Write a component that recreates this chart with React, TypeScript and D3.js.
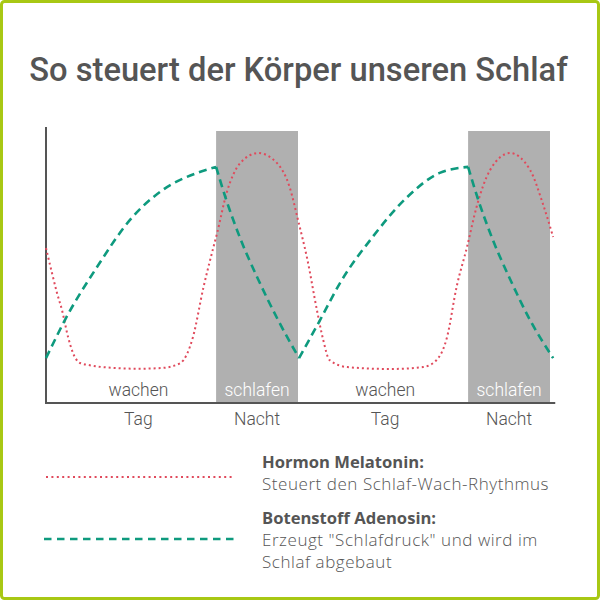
import React from "react";
import * as d3 from "d3";

// ---- data (hours since start of chart, relative level 0..100) ----
const melatoninHours = [0, 0.57, 1.05, 1.52, 2.1, 2.57, 3.24, 4.0, 6.4, 8.8, 11.1, 12.8, 14.0, 15.0, 15.8, 16.3, 17.2, 18.5, 20.2, 22.0, 23.2, 24.0, 24.9, 25.8, 26.4, 27.0, 28.7, 32.8, 35.9, 37.2, 38.2, 39.1, 40.1, 41.0, 42.3, 44.2, 46.1, 47.3, 48.3];
const melatoninLevel = [57.0, 47.8, 40.4, 34.2, 24.3, 18.4, 14.7, 14.0, 12.9, 12.6, 12.9, 14.7, 24.3, 42.6, 55.1, 62.5, 77.2, 88.2, 91.9, 88.2, 79.4, 67.3, 52.6, 34.2, 23.2, 15.8, 13.2, 12.5, 13.2, 15.8, 24.3, 42.6, 57.4, 72.0, 85.7, 91.9, 85.7, 73.5, 61.0];

const adenosinHours = [0, 0.38, 1.8, 4.86, 8.0, 11.1, 14.4, 16.2, 17.14, 18.48, 20.19, 22.1, 24.1, 26.1, 28.0, 31.1, 34.4, 37.5, 40.2, 41.14, 42.48, 44.19, 46.1, 48.3];
const adenosinLevel = [16.5, 19.5, 30.5, 50.0, 67.3, 78.3, 84.6, 86.8, 75.0, 60.7, 45.6, 30.5, 16.5, 30.5, 44.1, 61.0, 75.7, 84.6, 86.8, 75.0, 60.7, 45.6, 30.5, 16.5];

const nightStart = [16.2, 40.2];
const nightEnd = [24, 48];
const dayLabelHours = [8.8, 32.3];
const stateLabels = ["wachen", "schlafen"];
const timeLabels = ["Tag", "Nacht"];

const title = "So steuert der Körper unseren Schlaf";
const legendTitles = ["Hormon Melatonin:", "Botenstoff Adenosin:"];
const legendTexts = [["Steuert den Schlaf-Wach-Rhythmus"], ["Erzeugt \"Schlafdruck\" und wird im", "Schlaf abgebaut"]];

const W = 600;
const H = 600;
const FONT = "Roboto, 'Noto Sans', sans-serif";
const LFONT = "'Open Sans', Roboto, sans-serif";
const TEXT = "#555555";
const RED = "#e04a5c";
const GREEN = "#0e9a7e";

function splitMonotone(pts: [number, number][]) {
  const segs: [number, number][][] = [];
  let cur: [number, number][] = [pts[0]];
  let dir = 0;
  for (let i = 1; i < pts.length; i++) {
    const d = Math.sign(pts[i][1] - pts[i - 1][1]);
    if (dir !== 0 && d !== 0 && d !== dir) {
      segs.push(cur);
      cur = [pts[i - 1]];
    }
    if (d !== 0) dir = d;
    cur.push(pts[i]);
  }
  segs.push(cur);
  return segs;
}

export default function App() {
  const x = d3.scaleLinear().domain([0, 48]).range([46, 550]);
  const y = d3.scaleLinear().domain([0, 100]).range([403, 131]);

  const line = d3
    .line<[number, number]>()
    .x((d) => x(d[0]))
    .y((d) => y(d[1]))
    .curve(d3.curveMonotoneX);

  const melPts = melatoninHours.map((h, i) => [h, melatoninLevel[i]] as [number, number]);
  const adePts = adenosinHours.map((h, i) => [h, adenosinLevel[i]] as [number, number]);
  const melPath = line(melPts) || "";
  const adePath = splitMonotone(adePts).map((s) => line(s) || "").join("");

  const dayCenters = dayLabelHours;
  const nightCenters = nightStart.map((s, i) => (s + nightEnd[i]) / 2);

  return (
    <svg
      width={W}
      height={H}
      style={{ position: "absolute", left: 0, top: 0, background: "#fff" }}
      fontFamily={FONT}
    >
      <rect x={0} y={0} width={W} height={H} fill="#fff" />
      <rect x={1.5} y={1.5} width={W - 3} height={H - 3} rx={3} fill="none" stroke="#a8c814" strokeWidth={3} />

      <text x={298.5} y={81} textAnchor="middle" fontSize={32.7} fontWeight={500} fill={TEXT}>
        {title}
      </text>

      {nightStart.map((s, i) => (
        <rect key={i} x={x(s)} y={y(100)} width={x(nightEnd[i]) - x(s)} height={y(0) - y(100)} fill="#b0b0b0" />
      ))}

      <line x1={x(0)} y1={y(101.5)} x2={x(0)} y2={y(0) + 1} stroke="#555" strokeWidth={2} />
      <line x1={x(0) - 1} y1={y(0)} x2={x(48.5)} y2={y(0)} stroke="#555" strokeWidth={2} />

      <path d={melPath} fill="none" stroke={RED} strokeWidth={2} strokeDasharray="2 3" />
      <path d={adePath} fill="none" stroke={GREEN} strokeWidth={2.6} strokeDasharray="8 5" />

      {dayCenters.map((h, i) => (
        <g key={"d" + i}>
          <text x={x(h)} y={396} textAnchor="middle" fontSize={17.5} fontWeight={300} fill={TEXT}>
            {stateLabels[0]}
          </text>
          <text x={x(h)} y={425} textAnchor="middle" fontSize={17.5} fontWeight={300} fill={TEXT}>
            {timeLabels[0]}
          </text>
        </g>
      ))}
      {nightCenters.map((h, i) => (
        <g key={"n" + i}>
          <text x={x(h)} y={396} textAnchor="middle" fontSize={17.5} fontWeight={300} fill="#ffffff">
            {stateLabels[1]}
          </text>
          <text x={x(h)} y={425} textAnchor="middle" fontSize={17.5} fontWeight={300} fill={TEXT}>
            {timeLabels[1]}
          </text>
        </g>
      ))}

      {/* legend */}
      <line x1={46} y1={477} x2={235} y2={477} stroke={RED} strokeWidth={2} strokeDasharray="2 3.4" />
      <line x1={44} y1={539} x2={235} y2={539} stroke={GREEN} strokeWidth={2.6} strokeDasharray="7.5 5.5" />

      <g fontFamily={LFONT}>
        <text x={262} y={468} fontSize={16.6} fontWeight={700} fill={TEXT}>{legendTitles[0]}</text>
        <text x={262} y={490} fontSize={17} letterSpacing={0.55} fontWeight={300} fill={TEXT}>{legendTexts[0][0]}</text>
        <text x={262} y={524} fontSize={16.6} fontWeight={700} fill={TEXT}>{legendTitles[1]}</text>
        {legendTexts[1].map((t, i) => (
          <text key={i} x={262} y={546 + i * 22} fontSize={17} letterSpacing={0.55} fontWeight={300} fill={TEXT}>{t}</text>
        ))}
      </g>
    </svg>
  );
}
